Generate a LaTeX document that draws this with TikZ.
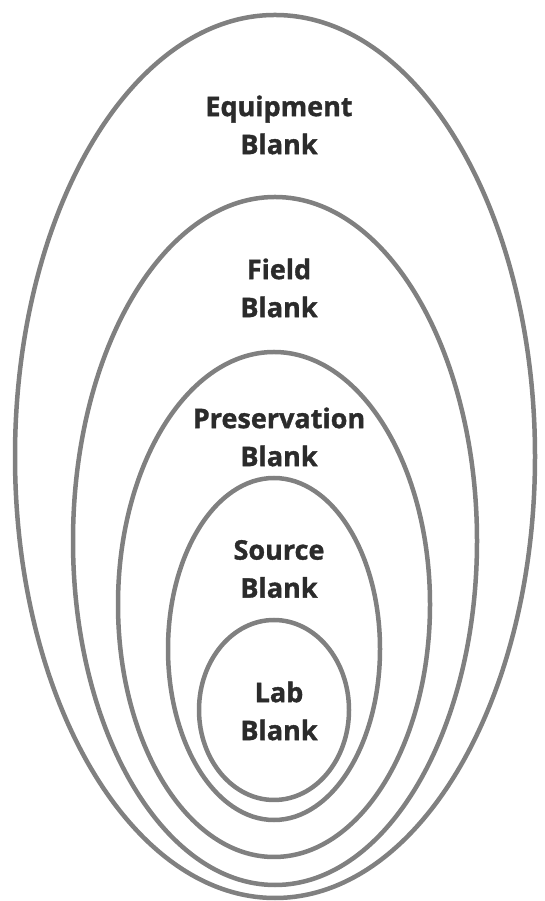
\documentclass[tikz,border=0pt]{standalone}
\usepackage{fontspec}
\setmainfont{Open Sans}[BoldFeatures={FakeBold=1.3}]
\usepackage{xcolor}
\usepackage{tikz}
\usetikzlibrary{positioning,shapes.geometric}
\definecolor{blankring}{HTML}{808080}
\definecolor{blanktext}{HTML}{2B2B2B}

\begin{document}
\begin{tikzpicture}[x=1pt,y=1pt,
    ring/.style={ellipse,draw=blankring,line width=4.5pt,inner sep=0pt},
    rlabel/.style={align=center,text=blanktext,
                   font=\bfseries\fontsize{27}{38}\selectfont},
  ]
    \useasboundingbox (0,0) rectangle (544,901);

    % nested rings, outermost first
    \node[ring,minimum width=520,minimum height=883] (equip) at (275,444.5) {};
    \node[ring,minimum width=404,minimum height=688] (field) at (275,360)   {};
    \node[ring,minimum width=312,minimum height=505] (pres)  at (274,296.5) {};
    \node[ring,minimum width=212,minimum height=342] (src)   at (274,252)   {};
    \node[ring,minimum width=150,minimum height=180] (lab)   at (274,191)   {};

    % labels, one near the top of each ring
    \node[rlabel] (equiplbl) at (279,776) {Equipment\\Blank};
    \node[rlabel] (fieldlbl) at (279,613) {Field\\Blank};
    \node[rlabel] (preslbl)  at (279,464) {Preservation\\Blank};
    \node[rlabel] (srclbl)   at (279,332) {Source\\Blank};
    \node[rlabel] (lablbl)   at (279,190) {Lab\\Blank};
  \end{tikzpicture}
\end{document}
